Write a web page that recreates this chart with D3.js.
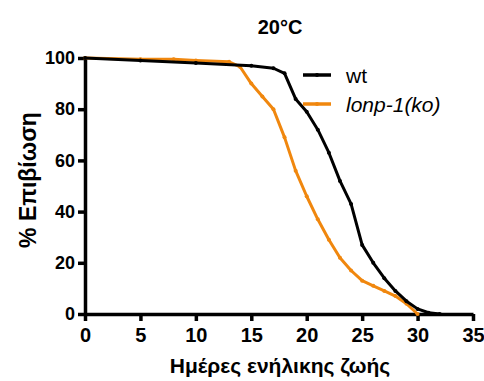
<!DOCTYPE html>
<html>
<head>
<meta charset="utf-8">
<script src="https://cdn.jsdelivr.net/npm/d3@7"></script>
<style>
  body { margin: 0; background: #fff; }
  text { font-family: "Liberation Sans", Arial, sans-serif; }
</style>
</head>
<body>
<div id="chart"></div>
<script>
// survival data (day, % alive)
const wtDays = [0, 5, 10, 15, 17, 18, 19, 20, 21, 22, 23, 24, 25, 26, 27, 28, 29, 30, 31, 32]
const wtSurv = [100, 99, 98, 97, 96, 94, 84, 79, 72, 63, 52, 43, 27, 20, 14, 9, 5, 2, 0.5, 0]
const koDays = [0, 5, 8, 10, 13, 14, 15, 16, 17, 18, 19, 20, 21, 22, 23, 24, 25, 26, 27, 28, 29, 30]
const koSurv = [100, 99.5, 99.5, 99, 98.5, 96.5, 90, 85, 80, 69, 56, 46, 37, 29, 22, 17, 13, 11, 9, 7, 4, 0]
const xTicks = [0, 5, 10, 15, 20, 25, 30, 35]
const yTicks = [0, 20, 40, 60, 80, 100]
const seriesNames = ["wt", "lonp-1(ko)"]
const seriesColors = ["#000000", "#f0870e"]

const width = 484, height = 381

const svg = d3.select("#chart")
  .append("svg")
    .attr("width", width)
    .attr("height", height)

const x = d3.scaleLinear().domain([0, 35]).range([85, 473])
const y = d3.scaleLinear().domain([0, 100]).range([314, 58])

// axes
const xAxis = svg.append("g")
  .attr("transform", "translate(0," + y(0) + ")")
  .call(d3.axisBottom(x).tickValues(xTicks).tickSize(7).tickSizeOuter(0).tickPadding(6))
const yAxis = svg.append("g")
  .attr("transform", "translate(" + x(0) + ",0)")
  .call(d3.axisLeft(y).tickValues(yTicks).tickSize(7).tickSizeOuter(0).tickPadding(3))

svg.selectAll(".domain, .tick line")
  .attr("stroke", "#000")
  .attr("stroke-width", 3.5)
svg.selectAll(".tick text")
  .attr("fill", "#000")
  .style("font-weight", "bold")
xAxis.selectAll(".tick text")
  .style("font-size", "20px")
  .attr("dy", "0.75em")
yAxis.selectAll(".tick text")
  .style("font-size", "18px")

// lines
const line = d3.line()
  .x(d => x(d[0]))
  .y(d => y(d[1]))

const series = [
  { name: seriesNames[1], color: seriesColors[1], pts: koDays.map((d, i) => [d, koSurv[i]]) },
  { name: seriesNames[0], color: seriesColors[0], pts: wtDays.map((d, i) => [d, wtSurv[i]]) }
]

series.forEach(s => {
  svg.append("path")
    .datum(s.pts)
    .attr("fill", "none")
    .attr("stroke", s.color)
    .attr("stroke-width", 3)
    .attr("stroke-linejoin", "round")
    .attr("d", line)
  svg.append("g")
    .selectAll("circle")
    .data(s.pts)
    .enter()
    .append("circle")
      .attr("cx", d => x(d[0]))
      .attr("cy", d => y(d[1]))
      .attr("r", 2)
      .attr("fill", s.color)
})

// legend
const legend = svg.append("g")
legend.selectAll("line")
  .data(seriesNames)
  .enter()
  .append("line")
    .attr("x1", 303).attr("x2", 331)
    .attr("y1", (d, i) => 75 + i * 29)
    .attr("y2", (d, i) => 75 + i * 29)
    .attr("stroke", (d, i) => seriesColors[i])
    .attr("stroke-width", 3.5)
legend.selectAll("circle")
  .data(seriesNames)
  .enter()
  .append("circle")
    .attr("cx", 317)
    .attr("cy", (d, i) => 75 + i * 29)
    .attr("r", 2)
    .attr("fill", (d, i) => seriesColors[i])
legend.selectAll("text")
  .data(seriesNames)
  .enter()
  .append("text")
    .attr("x", 346)
    .attr("y", (d, i) => 83 + i * 29)
    .style("font-size", "21px")
    .style("font-style", (d, i) => i == 1 ? "italic" : "normal")
    .text(d => d)

// title + axis labels
svg.append("text")
  .attr("x", 280).attr("y", 34)
  .attr("text-anchor", "middle")
  .style("font-size", "20px")
  .style("font-weight", "bold")
  .text("20°C")

svg.append("text")
  .attr("x", 280).attr("y", 373)
  .attr("text-anchor", "middle")
  .style("font-size", "21px")
  .style("font-weight", "bold")
  .text("Ημέρες ενήλικης ζωής")

svg.append("text")
  .attr("transform", "translate(36,180) rotate(-90)")
  .attr("text-anchor", "middle")
  .style("font-size", "23px")
  .style("font-weight", "bold")
  .text("% Επιβίωση")
</script>
</body>
</html>
